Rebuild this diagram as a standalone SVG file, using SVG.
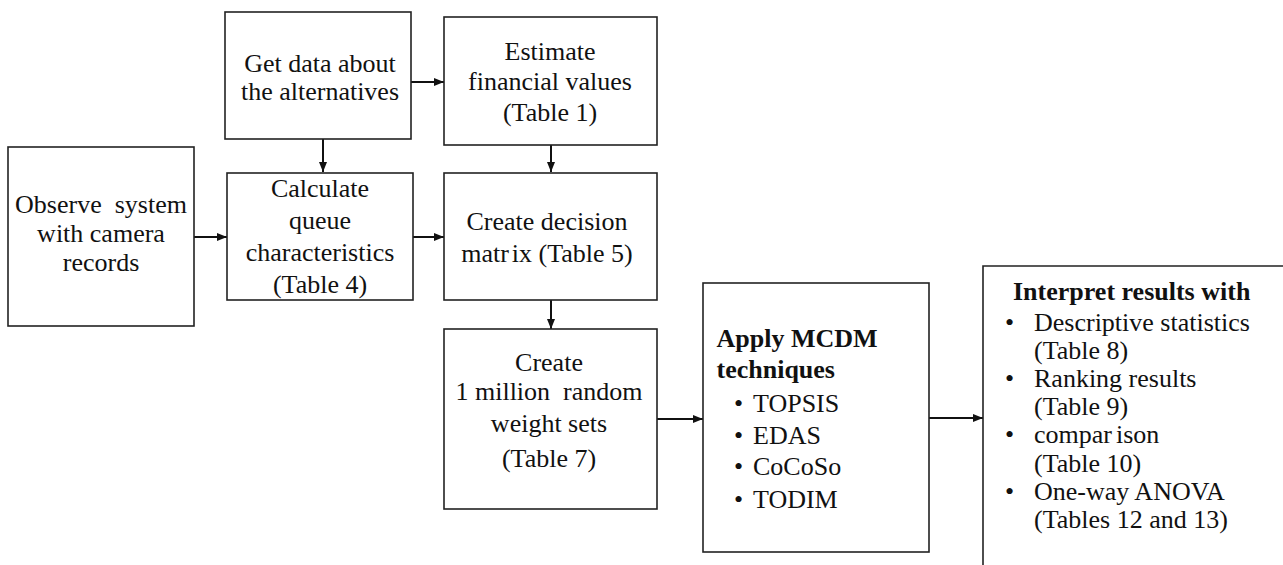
<svg xmlns="http://www.w3.org/2000/svg" width="1283" height="565" viewBox="0 0 1283 565">
<style>
.box{fill:#fff;stroke:#222;stroke-width:1.6}
text{font-size:26px;fill:#111}
.c{text-anchor:middle}
.b{font-weight:bold}
.conn{stroke:#111;stroke-width:2;fill:none;marker-end:url(#ah)}
</style>
<defs>
<marker id="ah" markerUnits="userSpaceOnUse" markerWidth="10" markerHeight="10" refX="10" refY="5" orient="auto">
<path d="M0,1 L10,5 L0,9 Z" fill="#111"/>
</marker>
</defs>
<rect width="1283" height="565" fill="#fff"/>
<g id="connectors">
<line class="conn" x1="411" y1="82" x2="444" y2="82"/>
<line class="conn" x1="323" y1="139" x2="323" y2="172"/>
<line class="conn" x1="551" y1="145" x2="551" y2="172"/>
<line class="conn" x1="194" y1="237" x2="227" y2="237"/>
<line class="conn" x1="413" y1="237" x2="444" y2="237"/>
<line class="conn" x1="551" y1="300" x2="551" y2="329"/>
<line class="conn" x1="657" y1="419" x2="703" y2="419"/>
<line class="conn" x1="929" y1="418" x2="983" y2="418"/>
</g>
<g font-family="'Liberation Serif', 'Times New Roman', 'DejaVu Serif', serif">
<g id="observe">
<rect class="box" x="8" y="147" width="186" height="179"/>
<text class="c" x="101" y="212.5">Observe&#160; system</text>
<text class="c" x="101" y="241.5">with camera</text>
<text class="c" x="101" y="270.5">records</text>
</g>
<g id="getdata">
<rect class="box" x="225" y="12" width="186" height="127"/>
<text class="c" x="320" y="72">Get data about</text>
<text class="c" x="320" y="99.5">the alternatives</text>
</g>
<g id="estimate">
<rect class="box" x="444" y="17" width="213" height="128"/>
<text class="c" x="550" y="59.5">Estimate</text>
<text class="c" x="550" y="90">financial values</text>
<text class="c" x="550" y="121">(Table 1)</text>
</g>
<g id="calculate">
<rect class="box" x="227" y="173" width="186" height="127"/>
<text class="c" x="320" y="197">Calculate</text>
<text class="c" x="320" y="229">queue</text>
<text class="c" x="320" y="261">characteristics</text>
<text class="c" x="320" y="293">(Table 4)</text>
</g>
<g id="decision">
<rect class="box" x="444" y="173" width="213" height="127"/>
<text class="c" x="547" y="230">Create decision</text>
<text class="c" x="547" y="261.5">matr<tspan dx="3">ix (Table 5)</tspan></text>
</g>
<g id="weights">
<rect class="box" x="444" y="329" width="213" height="180"/>
<text class="c" x="549" y="370.5">Create</text>
<text class="c" x="549" y="400">1 million&#160; random</text>
<text class="c" x="549" y="431.5">weight sets</text>
<text class="c" x="549" y="466.5">(Table 7)</text>
</g>
<g id="mcdm">
<rect class="box" x="703" y="283" width="226" height="269"/>
<text class="b" x="716.5" y="347">Apply MCDM</text>
<text class="b" x="716.5" y="378">techniques</text>
<text x="734" y="411.5">•</text><text x="753" y="411.5">TOPSIS</text>
<text x="734" y="443.5">•</text><text x="753" y="443.5">EDAS</text>
<text x="734" y="475">•</text><text x="753" y="475">CoCoSo</text>
<text x="734" y="508">•</text><text x="753" y="508">TODIM</text>
</g>
<g id="interpret">
<path class="box" d="M983,566 V266 H1284" fill="none"/>
<text class="b" x="1013" y="300">Interpret results with</text>
<text x="1005" y="331">•</text><text x="1034" y="331">Descriptive statistics</text>
<text x="1034" y="359">(Table 8)</text>
<text x="1005" y="387">•</text><text x="1034" y="387">Ranking results</text>
<text x="1034" y="415">(Table 9)</text>
<text x="1005" y="443">•</text><text x="1034" y="443">compar<tspan dx="4">ison</tspan></text>
<text x="1034" y="471.5">(Table 10)</text>
<text x="1005" y="500">•</text><text x="1034" y="500">One-way ANOVA</text>
<text x="1034" y="528">(Tables 12 and 13)</text>
</g>
</g>
</svg>
